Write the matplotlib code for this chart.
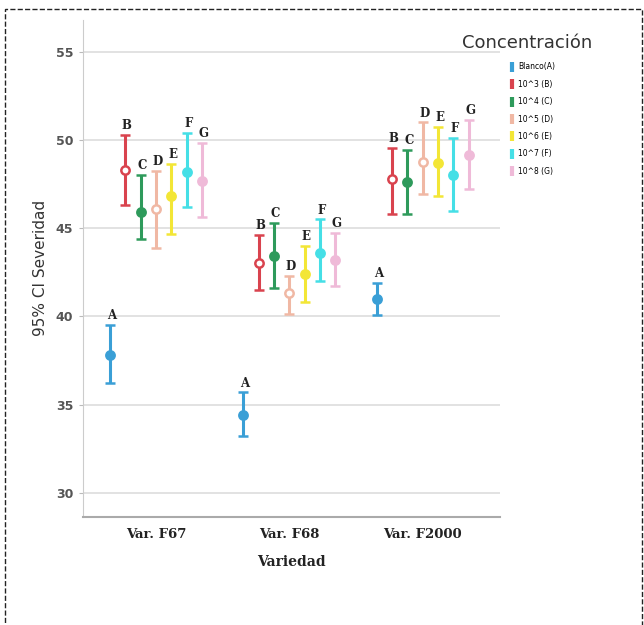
import matplotlib.pyplot as plt
import numpy as np
from matplotlib.lines import Line2D
from matplotlib.patches import Rectangle

# Varieties and concentration groups
varieties = ['Var. F67', 'Var. F68', 'Var. F2000']
letters = ['A', 'B', 'C', 'D', 'E', 'F', 'G']
conc_labels = ['Blanco(A)', '10^3 (B)', '10^4 (C)', '10^5 (D)', '10^6 (E)', '10^7 (F)', '10^8 (G)']
colors = ['#3a9fd6', '#d9434e', '#2e9a5b', '#f0b8a4', '#f3e636', '#45dfe6', '#efbad8']

# mean severity per concentration, one value per variety (F67, F68, F2000)
means = [
    [37.8, 34.4, 41.0],
    [48.3, 43.0, 47.8],
    [45.9, 43.4, 47.6],
    [46.1, 41.3, 48.75],
    [46.8, 42.4, 48.7],
    [48.2, 43.6, 48.0],
    [47.7, 43.2, 49.15],
]
lower = [
    [36.2, 33.2, 40.1],
    [46.3, 41.5, 45.8],
    [44.4, 41.6, 45.8],
    [43.9, 40.15, 46.95],
    [44.7, 40.8, 46.8],
    [46.2, 42.0, 46.0],
    [45.65, 41.7, 47.2],
]
upper = [
    [39.5, 35.7, 41.9],
    [50.3, 44.6, 49.55],
    [48.0, 45.3, 49.45],
    [48.25, 42.3, 51.0],
    [48.65, 44.0, 50.75],
    [50.4, 45.5, 50.1],
    [49.85, 44.75, 51.15],
]

fig = plt.figure(figsize=(6.44, 6.25), dpi=100)
ax = fig.add_axes([0.129, 0.173, 0.647, 0.795])

x = np.arange(len(varieties))
step = 0.115

for i in range(len(letters)):
    xs = x + (i - 3) * step
    m = np.array(means[i])
    lo = m - np.array(lower[i])
    hi = np.array(upper[i]) - m
    hollow = i in (1, 3)
    ax.errorbar(xs, m, yerr=[lo, hi], fmt='o', color=colors[i], ecolor=colors[i],
                elinewidth=2.2, capsize=3.5, capthick=1.5, markersize=6,
                markerfacecolor='white' if hollow else colors[i],
                markeredgewidth=1.8, zorder=3)
    for xx, top in zip(xs, upper[i]):
        ax.annotate(letters[i], (xx, top), xytext=(1, 2), textcoords='offset points',
                    ha='center', va='bottom', fontsize=8.5, fontweight='bold',
                    family='DejaVu Serif', color='#222222')

ax.set_xlim(-0.547, 2.577)
ax.set_ylim(28.64, 56.8)
ax.set_yticks([30, 35, 40, 45, 50, 55])
ax.set_xticks(x)
ax.set_xticklabels(varieties, family='DejaVu Serif', fontweight='bold', fontsize=9.5, color='#222222')
for lab in ax.get_yticklabels():
    lab.set_fontweight('bold')
    lab.set_fontsize(9)
    lab.set_color('#555555')
ax.tick_params(axis='x', length=0, pad=8)
ax.tick_params(axis='y', length=3, color='#bbbbbb', pad=4)
ax.grid(True, axis='y', color='#dddddd', linewidth=1.2)
ax.set_axisbelow(True)
for s in ['top', 'right']:
    ax.spines[s].set_visible(False)
ax.spines['left'].set_color('#cccccc')
ax.spines['bottom'].set_color('#aaaaaa')
ax.spines['bottom'].set_linewidth(1.5)

ax.set_xlabel('Variedad', family='DejaVu Serif', fontweight='bold', fontsize=10, color='#222222', labelpad=10)
ax.set_ylabel('95% CI Severidad', fontsize=11, color='#333333', labelpad=6)

# legend
fig.text(0.717, 0.932, 'Concentración', fontsize=13, color='#333333', ha='left', va='center')
handles = [Line2D([0], [0], marker='|', linestyle='none', color=c, markersize=7, markeredgewidth=3)
           for c in colors]
fig.legend(handles, conc_labels, loc='upper left', bbox_to_anchor=(0.787, 0.905),
           frameon=False, fontsize=5.5, handlelength=0.6, handletextpad=0.5,
           labelspacing=1.1, borderaxespad=0)

# dashed frame around the figure
fig.patches.append(Rectangle((5 / 644, -0.02), 637 / 644, 1 - 9 / 625 + 0.02,
                             transform=fig.transFigure, fill=False, linestyle='--',
                             linewidth=1, edgecolor='#222222'))

fig.savefig('out.png', dpi=100)
